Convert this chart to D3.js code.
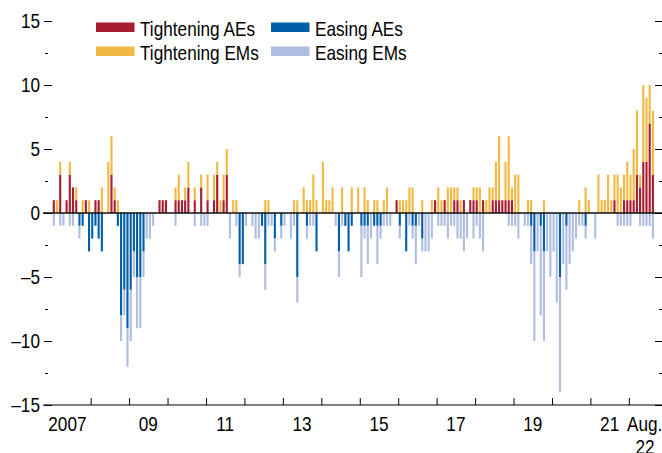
<!DOCTYPE html>
<html>
<head>
<meta charset="utf-8">
<script src="https://cdn.jsdelivr.net/npm/d3@7"></script>
<style>
  html, body { margin: 0; padding: 0; background: #fff; }
  svg { display: block; }
  text { font-family: "Liberation Sans Narrow", "Arial Narrow", "Liberation Sans", Arial, sans-serif; fill: #000; }
</style>
</head>
<body>
<svg id="chart" width="662" height="453"></svg>
<script>
// Monthly data, Jan 2007 – Aug 2022 (number of central banks)
const startMonth = "2007-01";
const tighteningAEs = [
1,0,3,0,1,3,2,1,0,0,1,0, 0,1,1,0,0,0,3,1,0,0,0,0,
0,0,0,0,0,0,0,0,0,1,1,1, 0,0,1,1,1,1,2,0,1,0,2,0,
1,0,1,3,0,1,3,0,0,0,0,0, 0,0,0,0,0,0,0,0,0,0,0,0,
0,0,0,0,0,0,0,0,0,0,0,0, 0,0,0,0,0,0,0,0,0,0,0,0,
0,0,0,0,0,0,0,0,0,0,0,1, 0,0,0,0,0,0,0,0,0,0,0,1,
0,0,1,0,0,1,1,0,1,0,1,1, 1,0,1,0,0,1,1,1,1,1,1,1,
0,0,0,0,0,0,0,0,0,0,0,0, 0,0,0,0,0,0,0,0,0,0,0,0,
0,0,0,0,0,0,0,1,0,0,1,1, 1,1,3,2,4,4,7,3
];
const tighteningEMs = [
0,1,1,0,0,1,0,1,0,1,0,1, 0,0,0,2,0,4,3,1,1,0,0,0,
0,0,0,0,0,0,0,0,0,0,0,0, 0,0,1,2,0,1,2,0,1,0,1,0,
2,0,2,1,1,2,2,0,1,1,0,0, 0,0,0,0,0,0,1,1,0,0,0,0,
0,0,0,1,1,0,2,1,1,3,1,0, 4,1,1,2,0,0,2,0,0,2,0,2,
0,2,1,0,1,1,0,1,2,0,0,0, 1,1,1,2,2,0,0,1,0,0,1,0,
2,1,0,2,2,1,1,1,0,0,0,1, 1,2,0,1,2,1,3,5,0,3,5,1,
3,3,0,0,1,1,0,0,0,1,0,0, 0,0,0,0,0,0,0,0,1,0,2,1,
0,0,3,1,1,3,1,2,3,2,2,3, 2,4,5,1,6,5,3,5
];
const easingAEs = [
0,0,0,0,0,0,0,0,-1,-1,0,-3, -2,-1,-2,-3,0,0,0,0,-1,-8,-6,-9,
-6,-3,-5,-5,-3,0,0,0,0,0,0,0, 0,0,0,0,0,0,0,0,0,0,0,0,
0,0,0,0,0,0,0,0,0,0,-4,-4, 0,0,0,0,0,-1,-4,0,0,-2,0,-1,
0,0,0,0,-5,0,0,-1,0,0,-3,0, 0,0,0,0,0,-3,0,-1,-3,-1,0,0,
-1,-1,-1,0,-1,-1,-1,0,0,0,0,0, -1,0,-3,0,-1,-1,0,-2,0,0,0,0,
0,0,0,0,0,0,0,0,0,0,0,0, 0,0,0,0,0,0,0,0,0,0,0,0,
0,0,0,0,0,-1,-3,0,-1,-3,0,0, 0,0,-5,0,-1,0,0,0,0,0,-1,0,
0,0,0,0,0,0,0,0,0,0,0,0, 0,0,0,0,0,0,0,0
];
const easingEMs = [
-1,0,-1,-1,0,-1,-1,0,-1,0,0,0, 0,0,0,0,0,0,0,0,0,-2,-2,-3,
-4,-2,-4,-4,-2,-2,-2,-1,0,0,0,0, 0,0,-1,0,0,0,0,0,-1,0,-1,-1,
-1,0,0,0,0,0,0,-2,0,-1,-1,0, -1,0,-1,-2,-2,0,-2,-1,-1,-1,0,-1,
-1,0,-2,-1,-2,0,0,-1,-1,-1,0,0, 0,0,0,0,-1,-2,-1,0,0,0,0,0,
-4,-1,-3,-2,0,-3,-1,-1,-1,-1,0,0, -1,0,0,-1,-1,-3,-1,-1,-3,-3,-2,0,
-1,-1,-1,-2,-1,-1,-2,-2,-3,-2,0,-2, -1,-2,-3,0,0,0,0,0,0,0,-1,-1,
-1,-2,0,-1,-1,-3,-7,-3,-7,-7,-3,-5, -3,-7,-9,-4,-5,-4,-3,-2,-1,-1,-1,0,
0,-2,0,0,0,0,0,0,-1,-1,-1,-1, -1,0,0,-1,-1,-1,-1,-2
];
const seriesKeys = ["Tightening AEs", "Tightening EMs", "Easing AEs", "Easing EMs"];
const seriesValues = [tighteningAEs, tighteningEMs, easingAEs, easingEMs];
const seriesColors = ["#a81c2f", "#f2b942", "#005ea8", "#afbde0"];
const yTickValues = [-15, -10, -5, 0, 5, 10, 15];
const yMinorTickValues = [-12.5, -7.5, -2.5, 2.5, 7.5, 12.5];
const xYearLabels = ["2007", "09", "11", "13", "15", "17", "19", "21"];

// ---- build table
const parse = d3.timeParse("%Y-%m");
const months = d3.range(tighteningAEs.length).map(i => d3.timeMonth.offset(parse(startMonth), i));
const table = months.map((m, i) => {
  const row = { month: m, i };
  seriesKeys.forEach((k, j) => row[k] = seriesValues[j][i]);
  return row;
});

const svg = d3.select("#chart");
const plotLeft = 52.2, plotRight = 654.5;
const axisLeftX = 43, axisRightX = 662;
const FS = 20, SX = 0.86; // font size, horizontal condensing

// condensed text helper
function ctext(parent, x, y, str, anchor) {
  return parent.append("text")
    .attr("transform", `translate(${x},${y}) scale(${SX},1)`)
    .attr("font-size", FS)
    .attr("text-anchor", anchor || "start")
    .text(str);
}

const x = d3.scaleBand().domain(d3.range(table.length)).range([plotLeft, plotRight]).paddingInner(0.34).paddingOuter(0.17);
const y = d3.scaleLinear().domain([-15, 15]).range([405, 21]);
const xYears = d3.scaleLinear().domain([0, table.length]).range([plotLeft, plotRight]);

// ---- bars
const stack = d3.stack().keys(seriesKeys).offset(d3.stackOffsetDiverging);
const stacked = stack(table);
svg.append("g").selectAll("g").data(stacked).join("g")
  .attr("fill", (d, i) => seriesColors[i])
  .selectAll("rect").data(d => d.filter(s => s[1] !== s[0])).join("rect")
  .attr("x", d => x(d.data.i))
  .attr("width", x.bandwidth())
  .attr("y", d => y(Math.max(d[0], d[1])))
  .attr("height", d => Math.abs(y(d[0]) - y(d[1])));

// ---- zero line
svg.append("line")
  .attr("x1", axisLeftX).attr("x2", axisRightX)
  .attr("y1", y(0)).attr("y2", y(0))
  .attr("stroke", "#111").attr("stroke-width", 1.6);

// ---- left axis (labels + major ticks)
const fmt = d => d < 0 ? "\u2013" + Math.abs(d) : String(d);
const leftAxis = svg.append("g").attr("transform", `translate(${plotLeft - 0.2},0)`)
  .call(d3.axisLeft(y).tickValues(yTickValues).tickSize(8).tickPadding(4).tickFormat(fmt));
leftAxis.select(".domain").remove();
leftAxis.selectAll("line").attr("stroke", "#000");
leftAxis.selectAll("text").each(function() {
  const t = d3.select(this);
  const tx = +t.attr("x");
  t.attr("x", 0).attr("dy", "0.34em")
   .attr("font-size", FS).attr("font-family", null).attr("fill", "#000")
   .attr("transform", `translate(${tx},0) scale(${SX},1)`);
});

const leftMinor = svg.append("g").attr("transform", `translate(48,0)`)
  .call(d3.axisLeft(y).tickValues(yMinorTickValues).tickSize(3).tickFormat(""));
leftMinor.select(".domain").remove();

// ---- right axis (ticks only, pointing inward)
const rightMajor = svg.append("g").attr("transform", `translate(${axisRightX},0)`)
  .call(d3.axisLeft(y).tickValues(yTickValues).tickSize(7).tickFormat(""));
rightMajor.select(".domain").remove();
const rightMinor = svg.append("g").attr("transform", `translate(${axisRightX},0)`)
  .call(d3.axisLeft(y).tickValues(yMinorTickValues).tickSize(3).tickFormat(""));
rightMinor.select(".domain").remove();

// ---- bottom axis
svg.append("line")
  .attr("x1", axisLeftX).attr("x2", axisRightX)
  .attr("y1", y(-15)).attr("y2", y(-15))
  .attr("stroke", "#000").attr("stroke-width", 1.2);
const yearStarts = d3.range(12, table.length, 12);
const bottom = svg.append("g").attr("transform", `translate(0,${y(-15)})`)
  .call(d3.axisTop(xYears).tickValues(yearStarts).tickSize(7).tickFormat(""));
bottom.select(".domain").remove();

// year labels at mid-year
const labelG = svg.append("g");
xYearLabels.forEach((lab, k) => {
  const mid = xYears(k * 24 + 6);
  ctext(labelG, mid + (k === 0 ? -4 : 0), 431, lab, "middle");
});
ctext(svg, 627, 431, "Aug.");
ctext(svg, 645, 454, "22", "middle");

// ---- legend
const legendItems = [
  { key: seriesKeys[0], col: 0, row: 0 },
  { key: seriesKeys[2], col: 1, row: 0 },
  { key: seriesKeys[1], col: 0, row: 1 },
  { key: seriesKeys[3], col: 1, row: 1 }
];
const legend = svg.append("g");
legendItems.forEach(it => {
  const gx = it.col === 0 ? 96 : 271;
  const gy = 22.5 + it.row * 24;
  const color = seriesColors[seriesKeys.indexOf(it.key)];
  legend.append("rect").attr("x", gx).attr("y", gy).attr("width", 38.5).attr("height", 9.5).attr("fill", color);
  ctext(legend, gx + 44, gy + 13.5, it.key);
});
</script>
</body>
</html>
